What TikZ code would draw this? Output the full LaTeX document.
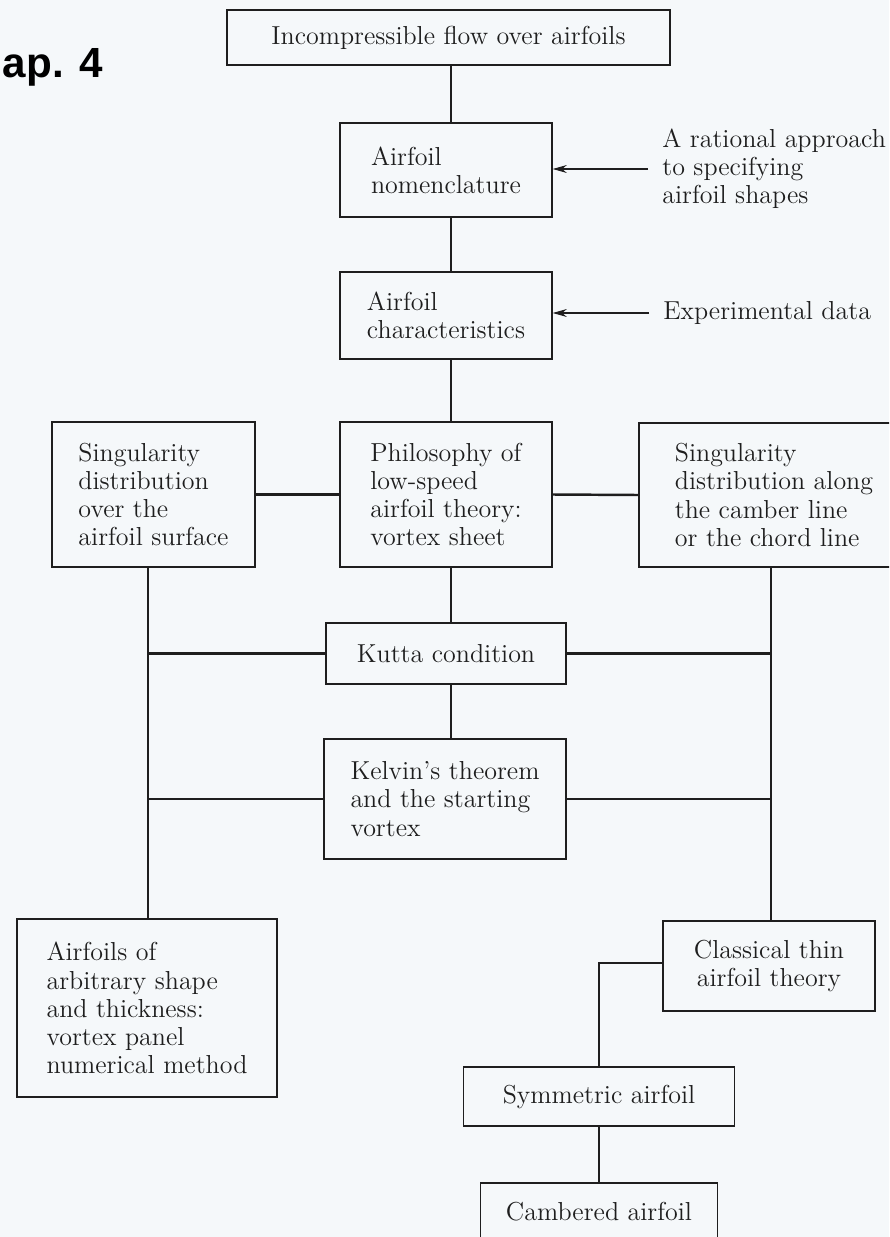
\documentclass[tikz,border=0pt]{standalone}
\usepackage{fontspec}
\usepackage{tikz}
\usetikzlibrary{
  arrows.meta,
  positioning,
  calc
}
\newfontfamily\chapfont{Liberation Sans}
\definecolor{papercolor}{HTML}{F5F8FA}
\definecolor{inkcolor}{HTML}{1E1E1E}
\newcommand{\boxfont}{\fontsize{14.8}{16}\selectfont}

\begin{document}
\begin{tikzpicture}[
  topic/.style={draw=inkcolor, line width=0.8pt, inner sep=0pt,
                font=\boxfont, text=inkcolor, align=left},
  note/.style={inner xsep=0.28cm, inner ysep=0pt, anchor=west,
               font=\boxfont, text=inkcolor, align=left},
  link/.style={draw=inkcolor, line width=1.4pt},
  feed/.style={-{Stealth[length=8pt, width=4.5pt]}, draw=inkcolor, line width=0.6pt},
]
  % page
  \fill[papercolor] (0,0) rectangle (17.78,-24.74);
  \clip (0,0) rectangle (17.78,-24.74);

  \node[font=\chapfont\bfseries\fontsize{24}{29}\selectfont, anchor=base west,
        inner sep=0pt] (chap) at (0.05,-1.56) {ap. 4};

  % main column
  \node[topic, minimum width=8.86cm, minimum height=1.10cm] (top) at (8.97,-0.75)
    {Incompressible flow over airfoils};
  \node[topic, minimum width=4.24cm, minimum height=1.88cm] (nomen) at (8.92,-3.40)
    {Airfoil\\nomenclature};
  \node[topic, minimum width=4.24cm, minimum height=1.74cm] (charac) at (8.92,-6.31)
    {Airfoil\\characteristics};
  \node[topic, minimum width=4.24cm, minimum height=2.90cm] (philo) at (8.92,-9.89)
    {Philosophy of\\low-speed\\airfoil theory:\\vortex sheet};
  \node[topic, minimum width=4.80cm, minimum height=1.22cm] (kutta) at (8.92,-13.07)
    {Kutta condition};
  \node[topic, minimum width=4.84cm, minimum height=2.40cm] (kelvin) at (8.90,-15.98)
    {Kelvin's theorem\\and the starting\\vortex};

  % side notes
  \node[note] (rational) at (12.96,-3.38)
    {A rational approach\\to specifying\\airfoil shapes};
  \node[note] (expdata) at (12.98,-6.26) {Experimental data};

  % singularity branches
  \node[topic, minimum width=4.06cm, minimum height=2.90cm] (surfsing) at (3.07,-9.89)
    {Singularity\\distribution\\over the\\airfoil surface};
  \node[topic, minimum width=5.40cm, minimum height=2.88cm] (linesing) at (15.48,-9.90)
    {Singularity\\distribution along\\the camber line\\or the chord line};

  % results
  \node[topic, minimum width=5.20cm, minimum height=3.56cm] (panel) at (2.94,-20.16)
    {Airfoils of\\arbitrary shape\\and thickness:\\vortex panel\\numerical method};
  \node[topic, align=center, minimum width=4.24cm, minimum height=1.80cm] (thin) at (15.38,-19.32)
    {Classical thin\\airfoil theory};
  \node[topic, minimum width=5.42cm, minimum height=1.18cm] (symm) at (11.98,-21.93)
    {Symmetric airfoil};
  \node[topic, minimum width=4.74cm, minimum height=1.14cm] (camb) at (11.98,-24.23)
    {Cambered airfoil};

  % trunks
  \coordinate (spine) at (9.02,0);
  \coordinate (ltrunk) at (2.96,0);
  \coordinate (rtrunk) at (15.42,0);

  \draw[link] (spine |- top.south) -- (spine |- nomen.north);
  \draw[link] (spine |- nomen.south) -- (spine |- charac.north);
  \draw[link] (spine |- charac.south) -- (spine |- philo.north);
  \draw[link] (spine |- philo.south) -- (spine |- kutta.north);
  \draw[link] (spine |- kutta.south) -- (spine |- kelvin.north);

  \draw[link] (surfsing.east) -- (philo.west);
  \draw[link] (philo.east) -- (linesing.west);

  \draw[link] (ltrunk |- surfsing.south) -- (ltrunk |- panel.north);
  \draw[link] (rtrunk |- linesing.south) -- (rtrunk |- thin.north);
  \draw[link] (kutta.west) -- (ltrunk |- kutta.west);
  \draw[link] (kutta.east) -- (rtrunk |- kutta.east);
  \draw[link] (kelvin.west) -- (ltrunk |- kelvin.west);
  \draw[link] (kelvin.east) -- (rtrunk |- kelvin.east);

  \draw[link] ([yshift=0.06cm]thin.west) -| (symm.north);
  \draw[link] (symm.south) -- (camb.north);

  % inputs
  \draw[feed] (rational.west) -- (rational.west -| nomen.east);
  \draw[feed] (expdata.west) -- (expdata.west -| charac.east);

\end{tikzpicture}
\end{document}
